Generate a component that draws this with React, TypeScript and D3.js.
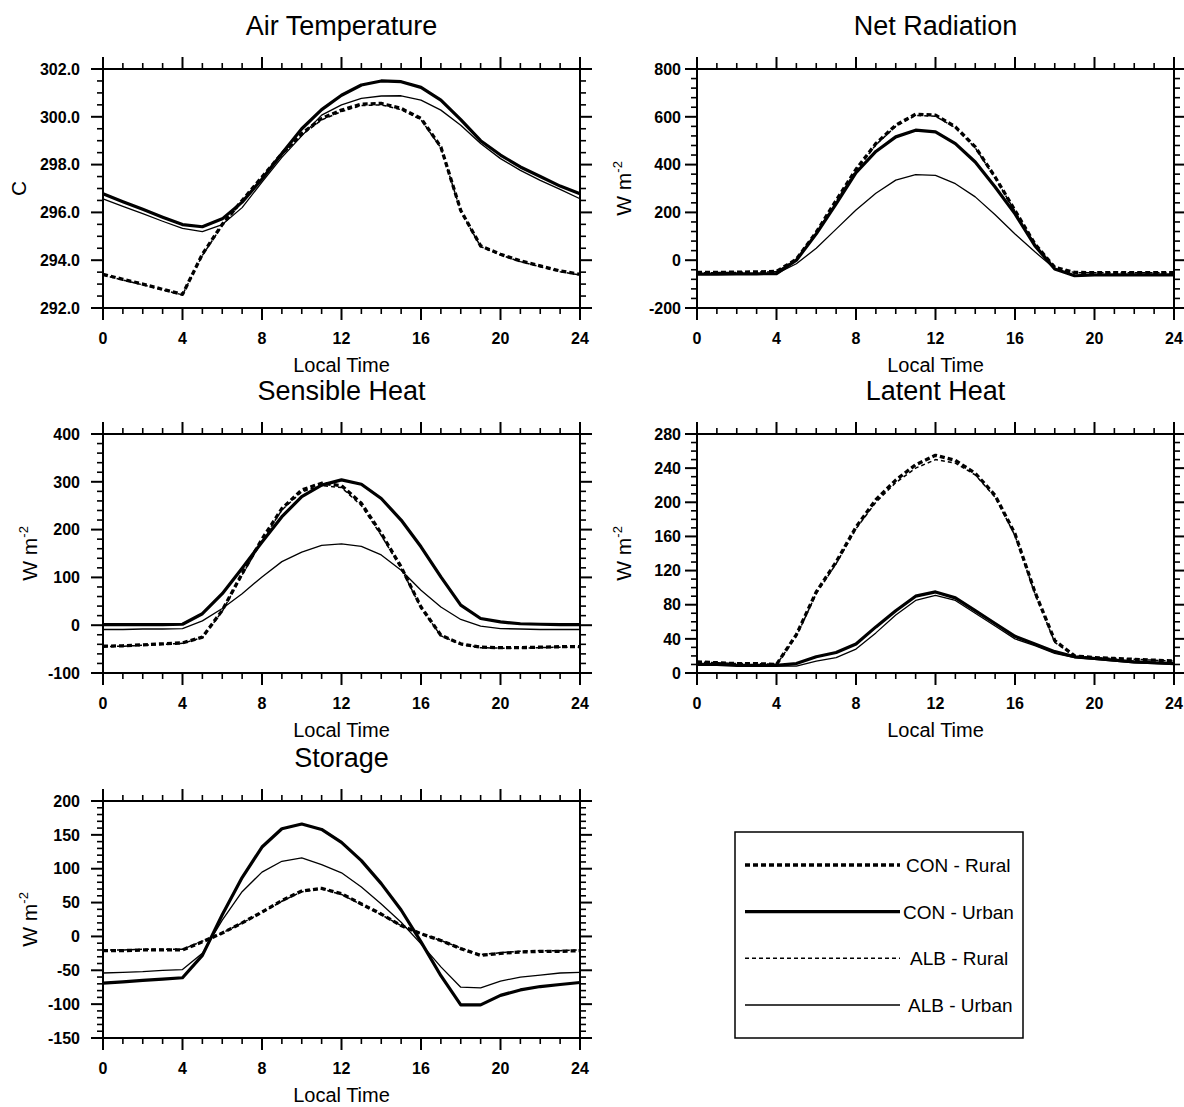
import React from 'react';
import * as d3 from 'd3';

// ---------- data ----------
const HOURS = [0, 1, 2, 3, 4, 5, 6, 7, 8, 9, 10, 11, 12, 13, 14, 15, 16, 17, 18, 19, 20, 21, 22, 23, 24];
const X_TICKS = [0, 4, 8, 12, 16, 20, 24];

const airConRural = [293.41, 293.2, 293.0, 292.78, 292.57, 294.25, 295.5, 296.5, 297.48, 298.46, 299.3, 299.93, 300.28, 300.53, 300.56, 300.35, 299.93, 298.74, 296.08, 294.6, 294.25, 293.97, 293.76, 293.55, 293.41];
const airConUrban = [296.78, 296.45, 296.13, 295.8, 295.49, 295.4, 295.73, 296.43, 297.4, 298.46, 299.5, 300.3, 300.9, 301.33, 301.5, 301.47, 301.23, 300.7, 299.88, 299.0, 298.4, 297.9, 297.5, 297.1, 296.78];
const airAlbRural = [293.38, 293.17, 292.97, 292.76, 292.55, 294.2, 295.45, 296.45, 297.42, 298.4, 299.24, 299.87, 300.22, 300.47, 300.5, 300.3, 299.88, 298.7, 296.05, 294.57, 294.22, 293.94, 293.73, 293.52, 293.38];
const airAlbUrban = [296.57, 296.25, 295.95, 295.63, 295.33, 295.2, 295.49, 296.2, 297.27, 298.3, 299.2, 300.07, 300.5, 300.77, 300.87, 300.88, 300.7, 300.28, 299.65, 298.88, 298.25, 297.76, 297.34, 296.96, 296.57];

const netConRural = [-51, -51, -50, -49, -47, 4, 117, 250, 380, 488, 565, 611, 607, 558, 474, 348, 208, 68, -30, -51, -52, -52, -52, -52, -52];
const netConUrban = [-58, -58, -57, -57, -56, 0, 110, 236, 366, 455, 516, 544, 537, 488, 411, 306, 194, 61, -37, -65, -62, -61, -61, -61, -61];
const netAlbRural = [-52, -52, -51, -50, -48, 2, 113, 246, 375, 483, 560, 606, 602, 554, 470, 344, 205, 66, -31, -52, -53, -53, -53, -53, -53];
const netAlbUrban = [-58, -58, -57, -57, -56, -15, 50, 130, 210, 280, 335, 358, 355, 320, 265, 190, 110, 35, -35, -65, -62, -61, -61, -61, -61];

const shConRural = [-44, -43, -41, -39, -37, -25, 31, 108, 180, 244, 283, 297, 292, 255, 192, 122, 38, -21, -39, -46, -47, -47, -46, -45, -45];
const shConUrban = [1, 1, 1, 1, 2, 24, 66, 119, 174, 227, 269, 293, 304, 295, 265, 220, 164, 101, 42, 14, 7, 3, 2, 1, 1];
const shAlbRural = [-45, -44, -42, -40, -38, -26, 29, 105, 177, 241, 279, 292, 288, 250, 188, 119, 36, -22, -40, -47, -48, -48, -47, -46, -46];
const shAlbUrban = [-9, -9, -8, -8, -7, 9, 35, 66, 101, 133, 153, 167, 170, 165, 147, 115, 73, 38, 12, -2, -7, -8, -9, -9, -9];

const lhConRural = [13, 12, 11, 11, 10, 45, 95, 130, 171, 203, 226, 244, 255, 249, 234, 208, 163, 95, 38, 20, 18, 17, 16, 15, 14];
const lhConUrban = [10, 10, 9, 9, 9, 11, 19, 24, 34, 54, 73, 90, 95, 88, 73, 58, 43, 34, 25, 19, 17, 15, 13, 12, 11];
const lhAlbRural = [13, 12, 11, 11, 10, 43, 93, 128, 169, 200, 223, 240, 250, 246, 232, 206, 161, 93, 36, 20, 18, 17, 16, 15, 14];
const lhAlbUrban = [10, 10, 9, 9, 8, 8, 14, 18, 28, 47, 68, 85, 91, 85, 70, 55, 40, 32, 23, 18, 16, 14, 12, 11, 10];

const stConRural = [-21, -21, -20, -20, -20, -8, 5, 20, 36, 53, 67, 71, 63, 48, 33, 16, 4, -6, -18, -28, -25, -23, -22, -22, -21];
const stConUrban = [-69, -67, -65, -63, -61, -28, 32, 87, 132, 159, 166, 158, 139, 112, 78, 39, -8, -58, -101, -101, -87, -79, -74, -71, -68];
const stAlbRural = [-20, -20, -19, -19, -19, -7, 5, 20, 35, 52, 66, 70, 62, 47, 32, 16, 4, -6, -17, -27, -24, -22, -21, -21, -20];
const stAlbUrban = [-54, -53, -52, -50, -49, -25, 24, 66, 95, 111, 116, 106, 94, 73, 48, 21, -11, -45, -75, -76, -66, -60, -57, -54, -53];

const AIR_TICKS = [292, 294, 296, 298, 300, 302];
const NET_TICKS = [-200, 0, 200, 400, 600, 800];
const SH_TICKS = [-100, 0, 100, 200, 300, 400];
const LH_TICKS = [0, 40, 80, 120, 160, 200, 240, 280];
const ST_TICKS = [-150, -100, -50, 0, 50, 100, 150, 200];

const LEGEND_LABELS = ['CON - Rural', 'CON - Urban', 'ALB - Rural', 'ALB - Urban'];

// ---------- styles / layout ----------
const FONT = "'Liberation Sans', Arial, Helvetica, sans-serif";
const STYLES: Record<string, { w: number; dash?: string }> = {
  conRural: { w: 3.3, dash: '5,3' },
  conUrban: { w: 3.2 },
  albRural: { w: 1.5, dash: '4,3' },
  albUrban: { w: 1.3 },
};
const LEGEND_KEYS = ['conRural', 'conUrban', 'albRural', 'albUrban'];

const COL_X = [103, 697];
const ROW_Y = [69, 434, 801];
const ROW_H = [239, 239, 237];
const PW = 477;

type Panel = {
  title: string;
  yLabel: 'C' | 'W';
  ticks: number[];
  minorStep: number;
  fmt: (v: number) => string;
  col: number;
  row: number;
  series: Record<string, number[]>;
};

const PANELS: Panel[] = [
  { title: 'Air Temperature', yLabel: 'C', ticks: AIR_TICKS, minorStep: 0.5, fmt: (v) => v.toFixed(1), col: 0, row: 0,
    series: { albUrban: airAlbUrban, albRural: airAlbRural, conUrban: airConUrban, conRural: airConRural } },
  { title: 'Net Radiation', yLabel: 'W', ticks: NET_TICKS, minorStep: 40, fmt: (v) => String(v), col: 1, row: 0,
    series: { albUrban: netAlbUrban, albRural: netAlbRural, conUrban: netConUrban, conRural: netConRural } },
  { title: 'Sensible Heat', yLabel: 'W', ticks: SH_TICKS, minorStep: 20, fmt: (v) => String(v), col: 0, row: 1,
    series: { albUrban: shAlbUrban, albRural: shAlbRural, conUrban: shConUrban, conRural: shConRural } },
  { title: 'Latent Heat', yLabel: 'W', ticks: LH_TICKS, minorStep: 10, fmt: (v) => String(v), col: 1, row: 1,
    series: { albUrban: lhAlbUrban, albRural: lhAlbRural, conUrban: lhConUrban, conRural: lhConRural } },
  { title: 'Storage', yLabel: 'W', ticks: ST_TICKS, minorStep: 10, fmt: (v) => String(v), col: 0, row: 2,
    series: { albUrban: stAlbUrban, albRural: stAlbRural, conUrban: stConUrban, conRural: stConRural } },
];

function PanelView({ p }: { p: Panel }) {
  const x0 = COL_X[p.col];
  const y0 = ROW_Y[p.row];
  const h = ROW_H[p.row];
  const lo = p.ticks[0];
  const hi = p.ticks[p.ticks.length - 1];
  const x = d3.scaleLinear().domain([0, 24]).range([x0, x0 + PW]);
  const y = d3.scaleLinear().domain([lo, hi]).range([y0 + h, y0]);
  const nMinor = Math.round((hi - lo) / p.minorStep);
  const yMinor = d3.range(0, nMinor + 1).map((i) => lo + i * p.minorStep);
  const xMinor = HOURS;
  const line = d3.line<number>().x((_, i) => x(HOURS[i])).y((d) => y(d));
  const labelEnd = p.col === 0 ? x0 - 23 : x0 - 16;
  const yLabX = p.yLabel === 'C' ? x0 - 85 : x0 - 74;
  const yMid = y0 + h / 2;
  const MAJ = 12;
  const MIN = 6;
  return (
    <g>
      <text x={x0 + PW / 2} y={y0 - 34} textAnchor="middle" fontSize={27} fontFamily={FONT}>{p.title}</text>
      {Object.entries(p.series).map(([k, vals]) => (
        <path key={k} d={line(vals) || ''} fill="none" stroke="#000" strokeWidth={STYLES[k].w}
          strokeDasharray={STYLES[k].dash} strokeLinejoin="round" />
      ))}
      <rect x={x0} y={y0} width={PW} height={h} fill="none" stroke="#000" strokeWidth={2} />
      {xMinor.map((t) => {
        const major = X_TICKS.includes(t);
        const L = major ? MAJ : MIN;
        return (
          <g key={'x' + t}>
            <line x1={x(t)} x2={x(t)} y1={y0} y2={y0 - L} stroke="#000" strokeWidth={major ? 2 : 1.6} />
            <line x1={x(t)} x2={x(t)} y1={y0 + h} y2={y0 + h + L} stroke="#000" strokeWidth={major ? 2 : 1.6} />
          </g>
        );
      })}
      {yMinor.map((t) => {
        const major = p.ticks.some((m) => Math.abs(m - t) < 1e-6);
        const L = major ? MAJ : MIN;
        return (
          <g key={'y' + t}>
            <line x1={x0} x2={x0 - L} y1={y(t)} y2={y(t)} stroke="#000" strokeWidth={major ? 2 : 1.6} />
            <line x1={x0 + PW} x2={x0 + PW + L} y1={y(t)} y2={y(t)} stroke="#000" strokeWidth={major ? 2 : 1.6} />
          </g>
        );
      })}
      {X_TICKS.map((t) => (
        <text key={'xl' + t} x={x(t)} y={y0 + h + 36} textAnchor="middle" fontSize={16} fontWeight="bold" fontFamily={FONT}>{t}</text>
      ))}
      {p.ticks.map((t) => (
        <text key={'yl' + t} x={labelEnd} y={y(t)} dy="0.36em" textAnchor="end" fontSize={16} fontWeight="bold" fontFamily={FONT}>{p.fmt(t)}</text>
      ))}
      <text x={x0 + PW / 2} y={y0 + h + 64} textAnchor="middle" fontSize={20} fontFamily={FONT}>Local Time</text>
      <text transform={`translate(${yLabX},${yMid}) rotate(-90)`} textAnchor="middle" dy="0.36em" fontSize={21} fontFamily={FONT}>
        {p.yLabel === 'C' ? 'C' : (<>W m<tspan dy={-9} fontSize={13}>-2</tspan></>)}
      </text>
    </g>
  );
}

function Legend() {
  const ly = d3.scalePoint<string>().domain(LEGEND_KEYS).range([865, 1005]);
  const textX = [906, 903, 910, 908];
  return (
    <g>
      <rect x={735} y={832} width={288} height={206} fill="none" stroke="#000" strokeWidth={1.5} />
      {LEGEND_KEYS.map((k, i) => (
        <g key={k}>
          <line x1={745} x2={900} y1={ly(k)} y2={ly(k)} stroke="#000" strokeWidth={STYLES[k].w} strokeDasharray={STYLES[k].dash} />
          <text x={textX[i]} y={ly(k)} dy="0.36em" fontSize={19} fontFamily={FONT}>{LEGEND_LABELS[i]}</text>
        </g>
      ))}
    </g>
  );
}

export default function App() {
  return (
    <svg width={1184} height={1107} style={{ position: 'absolute', left: 0, top: 0, background: '#fff' }}>
      <rect width={1184} height={1107} fill="#fff" />
      {PANELS.map((p) => <PanelView key={p.title} p={p} />)}
      <Legend />
    </svg>
  );
}
